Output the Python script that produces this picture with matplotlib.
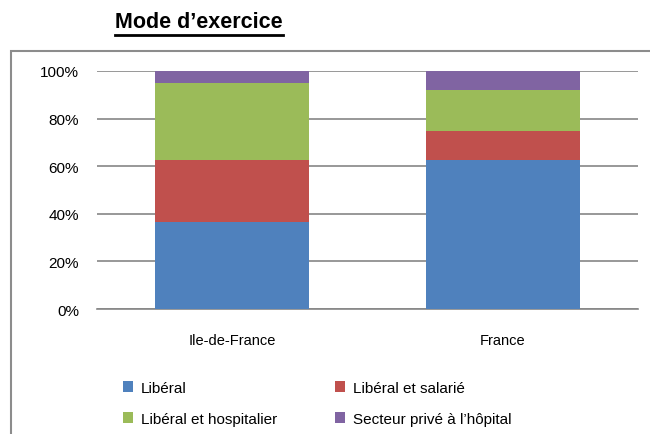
import numpy as np
import matplotlib
matplotlib.use("Agg")
import matplotlib.pyplot as plt
from matplotlib.patches import Rectangle, Patch
from matplotlib.lines import Line2D

regions = ["Ile-de-France", "France"]
series_names = ["Libéral", "Libéral et salarié", "Libéral et hospitalier", "Secteur privé à l’hôpital"]
liberal = [36.6, 62.7]
liberal_salarie = [26.1, 12.2]
liberal_hospitalier = [32.4, 17.2]
secteur_prive = [4.9, 7.9]
colors = ["#4F81BD", "#C0504D", "#9BBB59", "#8064A2"]
yticks = [0, 20, 40, 60, 80, 100]

plt.rcParams["font.family"] = ["Liberation Sans", "DejaVu Sans"]

W, H = 650, 435
fig = plt.figure(figsize=(W / 100, H / 100), dpi=100)

# grey frame around the chart area, running off the right and bottom edges
fig.patches.append(Rectangle((11 / W, -0.1), 1.0, (H - 52) / H + 0.1, transform=fig.transFigure,
                             fill=False, edgecolor="#8C8C8C", linewidth=1.5))

ax = fig.add_axes([97 / W, (H - 310) / H, 541 / W, 238 / H])
x = np.arange(len(regions))
stack = [liberal, liberal_salarie, liberal_hospitalier, secteur_prive]
bottom = np.zeros(len(regions))
for vals, c in zip(stack, colors):
    ax.bar(x, vals, width=0.57, bottom=bottom, color=c, zorder=3)
    bottom += np.array(vals)

ax.set_xlim(-0.5, 1.5)
ax.set_ylim(0, 100)
ax.set_yticks(yticks)
ax.set_yticklabels([f"{v}%" for v in yticks], fontsize=11)
ax.set_xticks(x)
ax.set_xticklabels(regions, fontsize=10.5)
ax.tick_params(axis="y", length=0, pad=13)
ax.tick_params(axis="x", length=0, pad=17)
ax.grid(axis="y", color="#868686", linewidth=1.2, zorder=0)
for s in ["top", "right", "left"]:
    ax.spines[s].set_visible(False)
ax.spines["bottom"].set_color("#868686")
ax.spines["bottom"].set_linewidth(1.2)

handles = [Patch(facecolor=c) for c in colors]
order = [0, 2, 1, 3]
fig.legend([handles[i] for i in order], [series_names[i] for i in order],
           ncol=2, loc="upper left", bbox_to_anchor=(109 / W, 1 - 368 / H),
           frameon=False, fontsize=11, handlelength=0.7, handleheight=0.7,
           handletextpad=0.5, columnspacing=3.75, labelspacing=1.1)

title = fig.text(199 / W, 1 - 23 / H, "Mode d’exercice", ha="center", va="center",
                 fontsize=15.5, fontweight="bold",
                 family=["Liberation Sans Narrow", "Liberation Sans", "DejaVu Sans"])
fig.canvas.draw()
bb = title.get_window_extent().transformed(fig.transFigure.inverted())
fig.lines.append(Line2D([bb.x0, bb.x1], [bb.y0 - 2 / H, bb.y0 - 2 / H], transform=fig.transFigure,
                        color="black", linewidth=2))

fig.savefig("out.png", dpi=100)
